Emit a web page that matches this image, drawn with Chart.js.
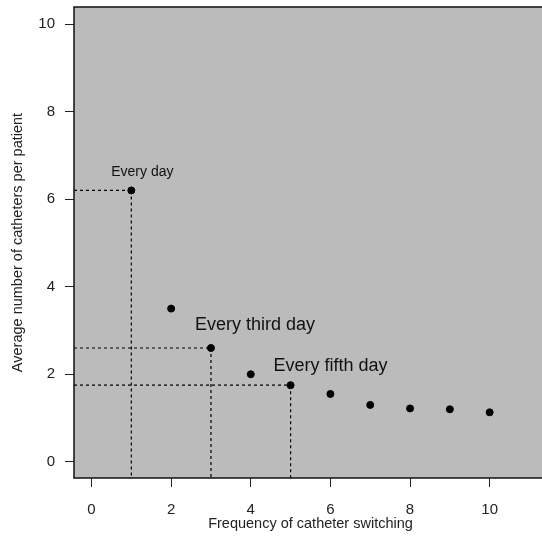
<!DOCTYPE html>
<html>
<head>
<meta charset="utf-8">
<script src="https://cdn.jsdelivr.net/npm/chart.js@4/dist/chart.umd.min.js"></script>
<style>
  html, body { margin: 0; padding: 0; background: #fff; overflow: hidden; }
  #wrap { width: 542px; height: 540px; overflow: hidden; }
</style>
</head>
<body>
<div id="wrap"><canvas id="chart" width="560" height="540"></canvas></div>
<script>
// switching frequency (days) vs average catheters per patient
var freq = [1, 2, 3, 4, 5, 6, 7, 8, 9, 10];
var avgCatheters = [6.2, 3.5, 2.6, 2.0, 1.75, 1.55, 1.3, 1.22, 1.2, 1.13];
var xTicks = [0, 2, 4, 6, 8, 10];
var yTicks = [0, 2, 4, 6, 8, 10];
var guideIdx = [0, 2, 4];
var guideLabels = ['Every day', 'Every third day', 'Every fifth day'];

var FONT = '"Liberation Sans", Arial, sans-serif';

var points = [];
for (var i = 0; i < freq.length; i++) {
  points.push({x: freq[i], y: avgCatheters[i]});
}

// label offsets (px) from the guide point, and font size
var labelStyle = [
  {dx: 11, dy: -18, size: 14},
  {dx: 44, dy: -23, size: 18},
  {dx: 40, dy: -19, size: 18}
];

var guidePlugin = {
  id: 'guides',
  beforeDatasetsDraw: function(chart) {
    var ctx = chart.ctx, a = chart.chartArea;
    var xs = chart.scales.x, ys = chart.scales.y;
    ctx.save();
    ctx.strokeStyle = '#000';
    ctx.lineWidth = 1.2;
    ctx.setLineDash([3, 3]);
    for (var k = 0; k < guideIdx.length; k++) {
      var px = xs.getPixelForValue(freq[guideIdx[k]]);
      var py = ys.getPixelForValue(avgCatheters[guideIdx[k]]);
      ctx.beginPath();
      ctx.moveTo(a.left, py);
      ctx.lineTo(px, py);
      ctx.moveTo(px, py);
      ctx.lineTo(px, a.bottom);
      ctx.stroke();
    }
    ctx.setLineDash([]);
    ctx.fillStyle = '#111';
    ctx.textAlign = 'center';
    ctx.textBaseline = 'middle';
    for (var k = 0; k < guideIdx.length; k++) {
      var px = xs.getPixelForValue(freq[guideIdx[k]]);
      var py = ys.getPixelForValue(avgCatheters[guideIdx[k]]);
      var st = labelStyle[k];
      ctx.font = st.size + 'px ' + FONT;
      ctx.fillText(guideLabels[k], px + st.dx, py + st.dy);
    }
    ctx.restore();
  },
  beforeDraw: function(chart) {
    var ctx = chart.ctx, a = chart.chartArea;
    ctx.save();
    ctx.fillStyle = '#bbbbbb';
    ctx.fillRect(a.left, a.top, a.right - a.left, a.bottom - a.top);
    ctx.restore();
  },
  afterDraw: function(chart) {
    var ctx = chart.ctx, a = chart.chartArea;
    ctx.save();
    ctx.strokeStyle = '#111';
    ctx.lineWidth = 1.5;
    ctx.strokeRect(a.left, a.top, a.right - a.left, a.bottom - a.top);
    ctx.restore();
  }
};

var ctx = document.getElementById('chart').getContext('2d');
var myChart = new Chart(ctx, {
  type: 'scatter',
  data: {
    datasets: [{
      data: points,
      backgroundColor: '#000',
      borderColor: '#000',
      pointRadius: 3.5,
      pointHoverRadius: 3.5
    }]
  },
  plugins: [guidePlugin],
  options: {
    responsive: false,
    animation: false,
    events: [],
    layout: { padding: { top: 7, right: 13, left: 0, bottom: 0 } },
    plugins: { legend: { display: false }, tooltip: { enabled: false } },
    scales: {
      x: {
        type: 'linear',
        min: -0.44,
        max: 11.44,
        afterBuildTicks: function(s) { s.ticks = xTicks.map(function(v){ return {value: v}; }); },
        afterFit: function(s) { s.height = 62; s.paddingLeft = 0; s.paddingRight = 0; },
        border: { display: false },
        grid: { drawOnChartArea: false, drawTicks: true, tickLength: 9, color: '#222', tickColor: '#222' },
        ticks: { color: '#222', padding: 14, font: { family: FONT, size: 15 }, maxRotation: 0 },
        title: { display: true, text: 'Frequency of catheter switching', color: '#222',
                 font: { family: FONT, size: 14.5 }, padding: { top: 0, bottom: 7 } }
      },
      y: {
        type: 'linear',
        min: -0.37,
        max: 10.39,
        afterBuildTicks: function(s) { s.ticks = yTicks.map(function(v){ return {value: v}; }); },
        afterFit: function(s) { s.width = 74; s.paddingTop = 0; s.paddingBottom = 0; },
        border: { display: false },
        grid: { drawOnChartArea: false, drawTicks: true, tickLength: 9, color: '#222', tickColor: '#222' },
        ticks: { color: '#222', padding: 10, font: { family: FONT, size: 15 } },
        title: { display: true, text: 'Average number of catheters per patient', color: '#222',
                 font: { family: FONT, size: 14.5 }, padding: { top: 9, bottom: 0 } }
      }
    }
  }
});
</script>
</body>
</html>
